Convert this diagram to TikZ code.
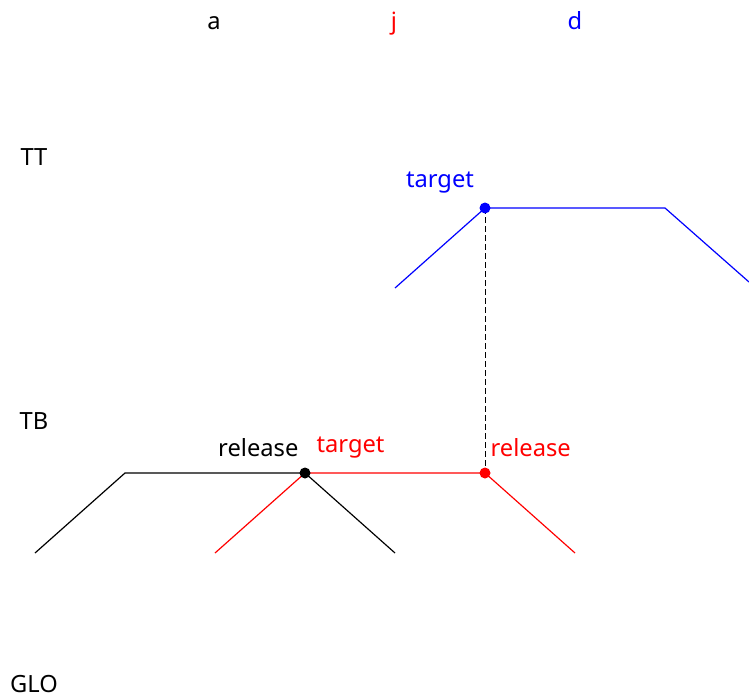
\documentclass[tikz,border=0pt]{standalone}
\usepackage{fontspec}
\setmainfont{Noto Sans}
\usetikzlibrary{positioning}
\begin{document}
\begin{tikzpicture}[x=1pt,y=-1pt,line width=1.2pt,
  lbl/.style={font=\fontsize{23.7}{28}\selectfont,inner sep=0pt},
  dot/.style={circle,fill,inner sep=0pt,minimum size=11pt}]
\useasboundingbox (0,0) rectangle (749,698);
% column and row labels
\node[lbl,anchor=base] (cola) at (214,30) {a};
\node[lbl,anchor=base,red] (colj) at (394,30) {j};
\node[lbl,anchor=base,blue] (cold) at (575,30) {d};
\node[lbl,anchor=base] (rowtt) at (34,165) {TT};
\node[lbl,anchor=base] (rowtb) at (34,429) {TB};
\node[lbl,anchor=base] (rowglo) at (34,692) {GLO};
% track corners
\coordinate (b1) at (35,553); \coordinate (b2) at (125,473); \coordinate (b3) at (305,473); \coordinate (b4) at (395,553);
\coordinate (r1) at (215,553); \coordinate (r3) at (485,473); \coordinate (r4) at (575,553);
\coordinate (u1) at (395,288); \coordinate (u2) at (485,208); \coordinate (u3) at (665,208); \coordinate (u4) at (749,282);
\draw[red] (r1)--(b3)--(r3)--(r4);
\draw (b1)--(b2)--(b3)--(b4);
\draw[blue] (u1)--(u2)--(u3)--(u4);
\draw[line width=1pt,dash pattern=on 6pt off 3pt] (u2)--(r3);
\node[dot,blue] (tgtd) at (u2) {};
\node[dot,red] (relj) at (r3) {};
\node[dot] (rela) at (b3) {};
% point labels
\node[lbl,anchor=base east] (lrela) at (299,456) {release};
\node[lbl,anchor=base west,red] (ltgtj) at (316,452) {target};
\node[lbl,anchor=base west,red] (lrelj) at (490,456) {release};
\node[lbl,anchor=base,blue] (ltgtd) at (440,187) {target};
\end{tikzpicture}
\end{document}
